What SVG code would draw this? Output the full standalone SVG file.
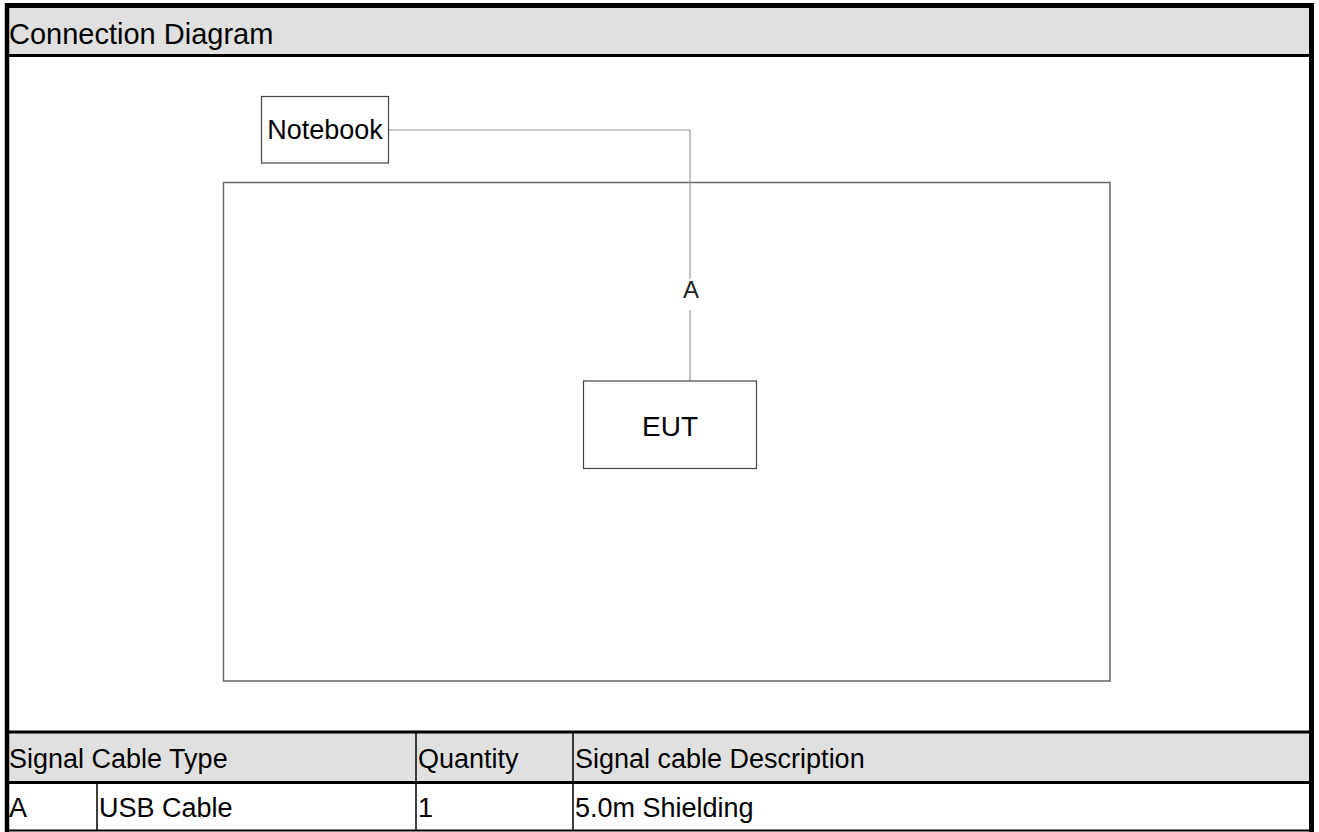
<svg xmlns="http://www.w3.org/2000/svg" width="1319" height="832" viewBox="0 0 1319 832">
<style>
text{font-family:"Liberation Sans",Arial,sans-serif;fill:#000}
.t{font-size:27px}
.box{fill:#fff;stroke:#444;stroke-width:1.2}
.wire{fill:none;stroke:#999;stroke-width:1.2}
.hdr{fill:#e0e0e0}
.thick{stroke:#000;stroke-width:3}
.thin{stroke:#000;stroke-width:1.5}
</style>
<rect width="1319" height="832" fill="#fff"/>
<g id="frame">
<rect class="hdr" x="9" y="8" width="1300" height="47"/>
<rect class="hdr" x="9" y="733" width="1300" height="48"/>
<line class="thick" x1="5" y1="5.5" x2="1314" y2="5.5" style="stroke-width:5"/>
<line class="thick" x1="7" y1="3" x2="7" y2="832" style="stroke-width:4.5"/>
<line class="thick" x1="1311.5" y1="3" x2="1311.5" y2="832" style="stroke-width:5"/>
<line class="thick" x1="5" y1="55.5" x2="1314" y2="55.5"/>
<line class="thick" x1="5" y1="732" x2="1314" y2="732"/>
<line class="thick" x1="5" y1="782.5" x2="1314" y2="782.5"/>
<line class="thick" x1="5" y1="830.5" x2="1314" y2="830.5" style="stroke-width:2"/>
<line class="thin" x1="416" y1="732" x2="416" y2="831"/>
<line class="thin" x1="573" y1="732" x2="573" y2="831"/>
<line class="thin" x1="97" y1="782" x2="97" y2="831"/>
<text x="9" y="44" style="font-size:29px">Connection Diagram</text>
<text x="9" y="768" class="t">Signal Cable Type</text>
<text x="418" y="768" class="t">Quantity</text>
<text x="575" y="768" class="t">Signal cable Description</text>
<text x="9" y="817" class="t">A</text>
<text x="99" y="817" class="t">USB Cable</text>
<text x="418" y="817" class="t">1</text>
<text x="575" y="817" class="t">5.0m Shielding</text>
</g>
<g id="area">
<rect x="223.5" y="182.5" width="886.5" height="498.5" fill="none" stroke="#666" stroke-width="1.5"/>
</g>
<g id="connectors">
<polyline class="wire" points="389,130 690,130 690,279"/>
<line class="wire" x1="690" y1="310" x2="690" y2="381"/>
<text x="691" y="298" text-anchor="middle" style="font-size:24px;fill:#222">A</text>
</g>
<g id="notebook">
<rect class="box" x="261.5" y="96.5" width="127" height="66.5"/>
<text x="325" y="139" text-anchor="middle" style="font-size:27px">Notebook</text>
</g>
<g id="eut">
<rect class="box" x="583.5" y="381" width="173" height="87.5"/>
<text x="670" y="436" text-anchor="middle" style="font-size:28px">EUT</text>
</g>
</svg>
